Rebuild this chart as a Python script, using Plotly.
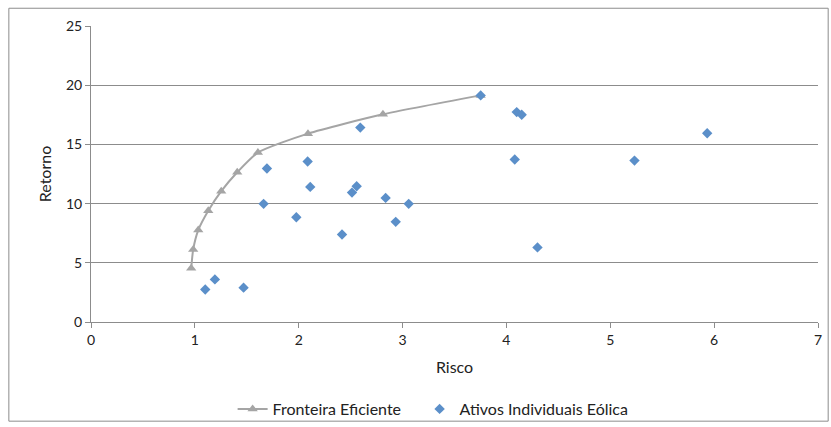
import plotly.graph_objects as go

# Efficient frontier (risk, return)
frontier_risk = [0.965, 0.984, 1.033, 1.129, 1.254, 1.408, 1.607, 2.089, 2.811, 3.752]
frontier_return = [4.53, 6.13, 7.76, 9.39, 11.05, 12.65, 14.31, 15.91, 17.54, 19.14]

# Individual wind assets
asset_risk = [1.100, 1.193, 1.469, 1.662, 1.694, 1.977, 2.086, 2.111, 2.417, 2.513, 2.558,
              2.593, 2.837, 2.934, 3.059, 3.752, 4.099, 4.147, 4.080, 4.299, 5.933, 5.233]
asset_return = [2.75, 3.60, 2.90, 9.98, 12.96, 8.85, 13.55, 11.41, 7.39, 10.93, 11.47,
                16.42, 10.48, 8.46, 9.98, 19.14, 17.73, 17.51, 13.72, 6.30, 15.94, 13.63]

x_ticks = [0, 1, 2, 3, 4, 5, 6, 7]
y_ticks = [0, 5, 10, 15, 20, 25]

FONT = "Lato, 'Open Sans', sans-serif"

fig = go.Figure()
fig.add_trace(go.Scatter(
    x=frontier_risk, y=frontier_return, mode="lines+markers",
    name="Fronteira Eficiente", legend="legend",
    line=dict(color="#A5A5A5", width=2, shape="spline", smoothing=0.6),
    marker=dict(symbol="triangle-up", size=9, color="#A5A5A5"),
))
fig.add_trace(go.Scatter(
    x=asset_risk, y=asset_return, mode="markers",
    name="Ativos Individuais Eólica", legend="legend2",
    marker=dict(symbol="diamond", size=8, color="#5B8FC9"),
))

legend_style = dict(orientation="h", yanchor="middle", y=-0.294, xanchor="left",
                    font=dict(size=16, color="#222"), bgcolor="rgba(0,0,0,0)")

fig.update_layout(
    width=831, height=427,
    margin=dict(l=91, r=13, t=26, b=105, autoexpand=False),
    paper_bgcolor="white", plot_bgcolor="white",
    font=dict(family=FONT, size=14, color="#222"),
    showlegend=True,
    legend=dict(x=0.1948, **legend_style),
    legend2=dict(x=0.452, **legend_style),
    shapes=[dict(type="rect", xref="paper", yref="paper",
                 x0=-0.113, x1=1.014, y0=-0.335, y1=1.06,
                 line=dict(color="#8C8C8C", width=1), fillcolor="rgba(0,0,0,0)", layer="below")],
)
fig.update_xaxes(
    range=[0, 7], tickvals=x_ticks, showgrid=False, automargin=False,
    showline=True, linecolor="#8C8C8C", linewidth=1,
    ticks="outside", ticklen=5, tickcolor="#8C8C8C",
    zeroline=False,
    title=dict(text="Risco", font=dict(size=16, color="#222"), standoff=15),
)
fig.update_yaxes(
    range=[0, 25], tickvals=y_ticks, showgrid=True, gridcolor="#8C8C8C", gridwidth=1,
    showline=True, linecolor="#8C8C8C", linewidth=1, automargin=False,
    ticks="outside", ticklen=5, tickcolor="#8C8C8C",
    zeroline=False,
    title=dict(text="Retorno", font=dict(size=16, color="#222"), standoff=10),
)

fig.write_html("out.html")
